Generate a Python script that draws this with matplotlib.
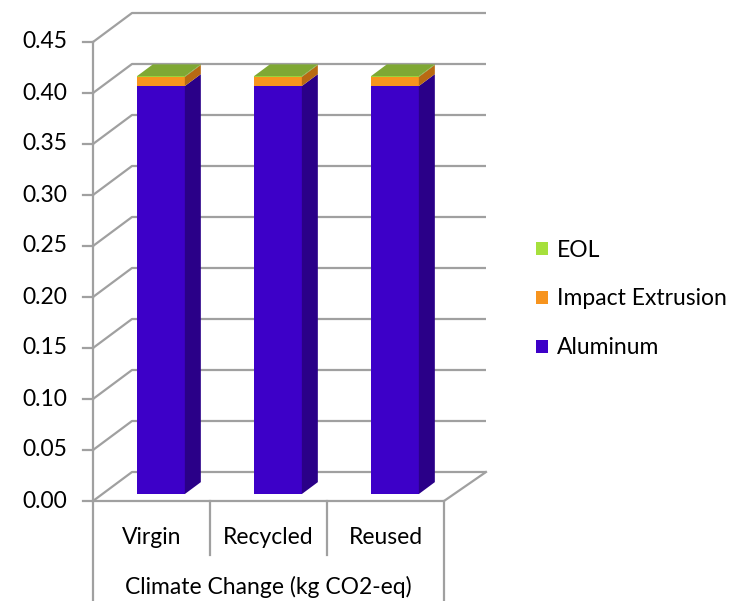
import matplotlib
matplotlib.use("Agg")
import matplotlib.pyplot as plt
from matplotlib.patches import Polygon, Patch

plt.rcParams['font.family'] = ['Lato', 'DejaVu Sans']

# Data
categories = ["Virgin", "Recycled", "Reused"]
group_label = "Climate Change (kg CO2-eq)"
aluminum = [0.400, 0.400, 0.400]
impact_extrusion = [0.009, 0.009, 0.009]
eol = [0.0006, 0.0006, 0.0006]
y_ticks = [0.00, 0.05, 0.10, 0.15, 0.20, 0.25, 0.30, 0.35, 0.40, 0.45]

series = [
    ("Aluminum", aluminum, "#3D00C8", "#2A0088", "#3D00C8"),
    ("Impact Extrusion", impact_extrusion, "#F7941E", "#B86A12", "#F7941E"),
    ("EOL", eol, "#A6E03C", "#6E9426", "#7FA834"),
]
legend_colors = {"EOL": "#A6E03C", "Impact Extrusion": "#F7941E", "Aluminum": "#3D00C8"}

W, H = 756, 601
fig = plt.figure(figsize=(W / 100, H / 100), dpi=100)
ax = fig.add_axes([0, 0, 1, 1])

FS = 16.5

# pixel scale: 117 px per category, 1020 px per unit value
px_x, px_y = 117.0, 1020.0
x_left = -0.5 - 93 / px_x
ax.set_xlim(x_left, x_left + W / px_x)
y_bot = -100 / px_y
ax.set_ylim(y_bot, y_bot + H / px_y)

# depth vector of the 3-D box (in data units)
DX, DY = 39 / px_x, 29 / px_y
x0, x1 = -0.5, 2.5
x_back_right = x1 + 42 / px_x
grid_c = "#A0A0A0"
lw = 1.6

# side wall + back wall gridlines
for v in y_ticks:
    ax.plot([x0, x0 + DX, x_back_right], [v, v + DY, v + DY],
            color=grid_c, lw=lw, solid_capstyle="butt", zorder=1)

# floor outline
ax.plot([x0, x1, x_back_right], [0, 0, DY], color=grid_c, lw=lw, zorder=1)

# front value axis with outward ticks
ax.plot([x0, x0], [y_bot, y_ticks[-1]], color=grid_c, lw=lw, zorder=2)
for v in y_ticks:
    ax.plot([x0 - 10 / px_x, x0], [v, v], color=grid_c, lw=lw, zorder=2)
    ax.text(x0 - 26 / px_x, v, f"{v:.2f}", ha="right", va="center",
            fontsize=FS, color="#000000")

# category table under the floor
ax.plot([x1, x1], [y_bot, 0], color=grid_c, lw=lw, zorder=2)
for i in range(1, len(categories)):
    ax.plot([x0 + i, x0 + i], [-0.053, 0], color=grid_c, lw=lw, zorder=2)
for i, c in enumerate(categories):
    ax.text(i, -0.0355, c, ha="center", va="center", fontsize=FS, color="#000000")
ax.text(1.0, -0.0845, group_label, ha="center", va="center", fontsize=FS, color="#000000")

# 3-D stacked columns
bar_w = 0.41
d0, d1 = 0.24, 0.65
for i in range(len(categories)):
    base = 0.0
    for k, (name, vals, front_c, side_c, top_c) in enumerate(series):
        v = vals[i]
        lo, hi = base, base + v
        xl = i - bar_w / 2 + d0 * DX
        xr = i + bar_w / 2 + d0 * DX
        ylo, yhi = lo + d0 * DY, hi + d0 * DY
        sx, sy = (d1 - d0) * DX, (d1 - d0) * DY
        z = 5 + k
        ax.add_patch(Polygon([(xl, ylo), (xr, ylo), (xr, yhi), (xl, yhi)],
                             closed=True, facecolor=front_c, edgecolor="none", zorder=z))
        ax.add_patch(Polygon([(xr, ylo), (xr + sx, ylo + sy), (xr + sx, yhi + sy), (xr, yhi)],
                             closed=True, facecolor=side_c, edgecolor="none", zorder=z))
        if k == len(series) - 1:
            ax.add_patch(Polygon([(xl, yhi), (xr, yhi), (xr + sx, yhi + sy), (xl + sx, yhi + sy)],
                                 closed=True, facecolor=top_c, edgecolor="none", zorder=z + 1))
        base = hi

# legend
handles = [Patch(facecolor=legend_colors[n], edgecolor="none", label=n)
           for n in ["EOL", "Impact Extrusion", "Aluminum"]]
fig.legend(handles=handles, loc="center left", bbox_to_anchor=(527 / W, 1 - 299 / H),
           frameon=False, fontsize=FS, handlelength=0.5, handleheight=0.5,
           handletextpad=0.42, labelspacing=1.22, borderaxespad=0)

ax.axis("off")
fig.savefig("out.png", dpi=100)
